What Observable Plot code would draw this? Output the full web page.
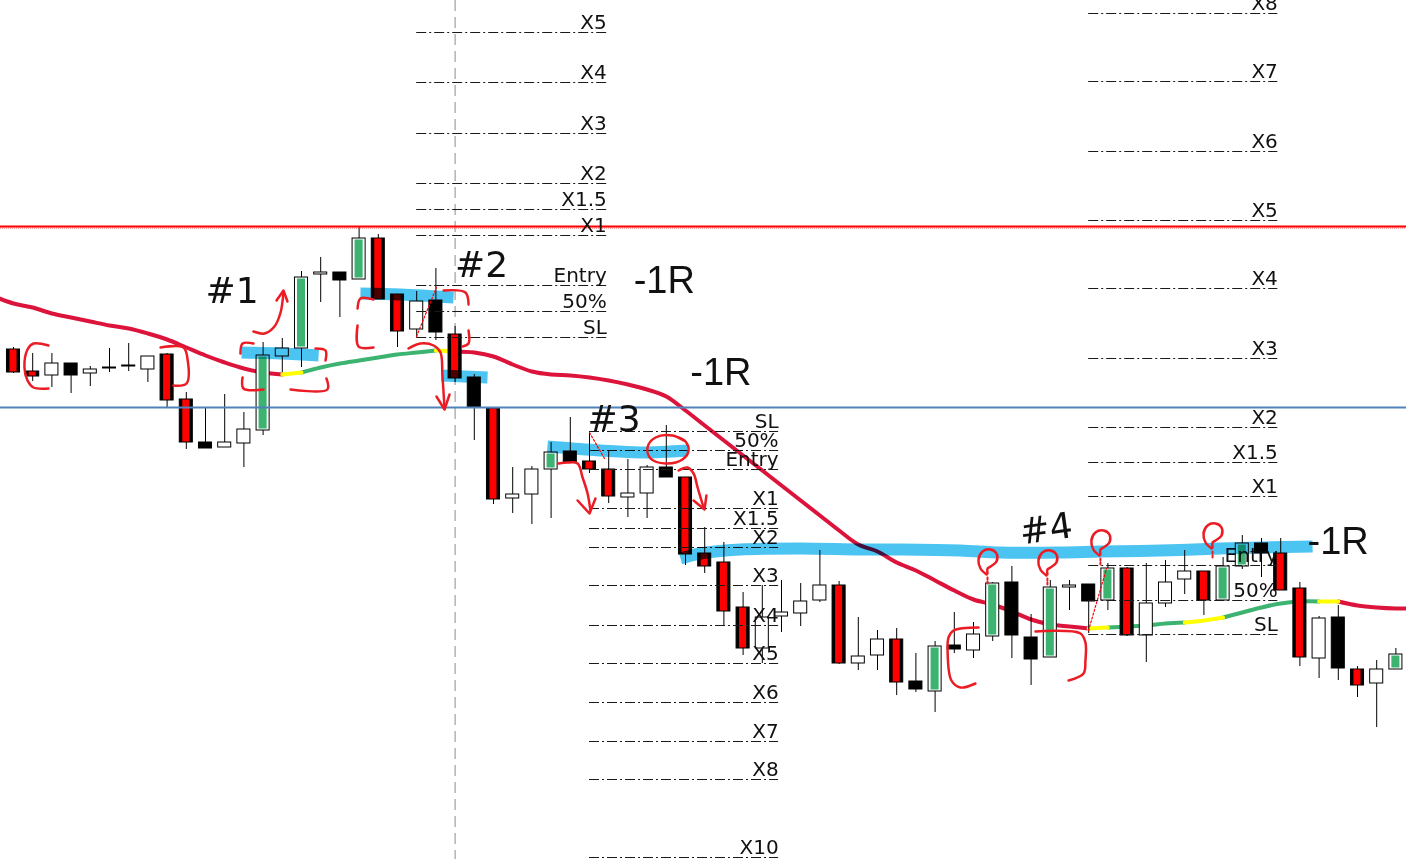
<!DOCTYPE html>
<html><head><meta charset="utf-8">
<script src="https://cdn.jsdelivr.net/npm/d3@7"></script>
<script src="https://cdn.jsdelivr.net/npm/@observablehq/plot@0.6"></script>
<style>html,body{margin:0;padding:0;background:#fff;overflow:hidden}</style>
</head><body><div id="chart"></div>
<script>
// ---------- DATA (prices in points) ----------
const open  = [651,629,625,637,627,632,634,631,646,601,558,553,557,570,644,652,726,728,721,762,706,671,700,666,623,592,502,506,531,549,539,531,503,507,533,523,447,438,393,352,384,387,400,415,337,345,361,319,309,355,350,364,418,363,343,413,416,400,432,365,397,421,429,400,434,457,447,412,342,383,331,317,331];
const high  = [653,647,647,637,634,652,657,644,647,608,592,606,588,658,662,729,743,728,773,766,706,709,732,674,626,592,533,534,558,583,568,550,541,535,575,523,473,458,408,415,420,417,450,419,383,370,372,347,359,388,378,418,434,386,420,420,416,437,433,437,440,450,429,443,465,462,462,418,384,395,334,340,352];
const low   = [627,619,613,607,614,628,629,618,593,551,552,553,533,565,628,633,698,683,721,701,653,663,660,618,560,496,487,476,482,538,527,497,483,482,523,435,427,375,345,337,368,374,398,336,330,330,305,308,288,347,342,359,342,315,343,390,367,390,364,338,393,406,385,400,431,423,410,334,322,320,303,273,331];
const close = [628,624,637,625,631,633,635,644,600,558,552,558,571,645,652,723,728,720,762,701,669,699,668,622,593,501,506,531,548,538,531,504,507,533,523,446,434,389,352,383,388,399,415,337,344,361,318,311,354,351,366,417,365,341,413,415,399,432,365,397,418,429,400,434,457,447,410,343,382,332,315,331,346];
const signal = ["S","S","-","-","-","-","-","-","S","S","-","-","-","B","-","B","-","-","B","S","S","-","-","S","-","S","-","-","B","-","S","S","-","-","-","S","S","S","S","-","-","-","-","S","-","-","S","-","B","-","-","B","-","-","B","-","-","B","S","-","-","-","S","B","B","-","S","S","-","-","S","-","B"];

// moving average, bars -1 .. 73
const maStart = -1;
const maValue = [704,697,693,687,683,679,675,672,667,661,653,645,638,632,628,626,628,633,637,640,643,646,648,650,649,648,644,636,629,626,625,623,620,616,611,604,590,575,560,545,530,515,500,485,470,456,449,438,430,420,410,401,396,389,381,376,374,372,373,374,375,377,378,380,383,388,393,397,399,399,399,395,393,392,392];
const maRuns = [
  {from:-1, to:14, trend:"down"}, {from:14, to:15, trend:"flat"}, {from:15, to:22, trend:"up"},
  {from:22, to:23, trend:"flat"}, {from:23, to:56, trend:"down"}, {from:56, to:57, trend:"flat"},
  {from:57, to:61, trend:"up"}, {from:61, to:63, trend:"flat"}, {from:63, to:68, trend:"up"},
  {from:68, to:69, trend:"flat"}, {from:69, to:73, trend:"down"}
];

// horizontal reference lines
const redLevel = 774;
const blueLevel = 593;
const sessionBar = 23;

// trade level sets
const levelSets = [
  {from:21, to:30.9, labels:["X5","X4","X3","X2","X1.5","X1","Entry","50%","SL"],
   prices:[968,918,867,817,791,765,715,689,663]},
  {from:30, to:39.85, labels:["SL","50%","Entry","X1","X1.5","X2","X3","X4","X5","X6","X7","X8","X10"],
   prices:[569,550,531,492,472,453,415,375,337,298,259,221,143]},
  {from:56, to:65.85, labels:["X8","X7","X6","X5","X4","X3","X2","X1.5","X1","Entry","50%","SL"],
   prices:[987,919,849,780,712,642,573,538,504,435,400,366]}
];

// annotations
const tradeTags = ["#1","#2","#3","#4"];
const tradeTagBars = [10.0, 23.0, 29.9, 52.5];
const tradeTagPrices = [698, 724, 570, 456];
const riskTags = ["-1R","-1R","-1R"];
const riskTagBars = [32.3, 35.25, 67.4];
const riskTagPrices = [708, 616, 447];

const highlightStrokes = [
  [[11.88,648],[13.91,647],[15.89,645]],
  [[18.07,707],[20.16,706],[22.92,703]],
  [[22.29,625],[24.69,623]],
  [[27.81,554],[30.57,550],[32.66,548],[35.1,550]],
  [[34.74,442],[35.78,447],[37.86,451],[40.99,452],[44.11,451],[46.2,451],[49.32,450],[51.41,448],[54.53,448],[56.61,449],[59.74,450],[62.86,452],[67.66,454]]
];
const penCurves = [
  [[1.82,655],[1.04,657],[0.73,651],[0.57,633],[0.73,620],[1.04,613],[1.82,612]],
  [[7.66,653],[8.85,653],[9.06,642],[9.01,617],[8.33,615]],
  [[12.5,657],[11.93,657],[11.82,647]],
  [[11.93,623],[11.98,612],[13.02,611]],
  [[15.73,652],[16.25,650],[16.25,640]],
  [[14.43,611],[16.35,611],[16.3,622]],
  [[12.5,669],[13.07,667],[13.59,674],[13.91,688],[14.06,708]],
  [[18.75,701],[18.07,702],[17.92,692]],
  [[17.92,675],[17.97,654],[18.75,653]],
  [[22.4,710],[23.54,708],[23.7,696]],
  [[23.7,670],[23.7,657],[23.39,654]],
  [[20.57,652],[21.2,657],[21.88,655],[22.24,648],[22.34,625],[22.45,592]],
  [[28.39,537],[28.85,538],[29.38,537],[29.64,523],[29.9,507],[30.05,490]],
  [[34.9,560],[34.32,565],[33.44,563],[33.02,553],[33.18,542],[33.96,537],[34.84,541],[35.16,550],[35.0,559],[34.64,563]],
  [[34.64,530],[35.1,533],[35.42,527],[35.63,513],[35.94,493]],
  [[50.26,373],[48.96,370],[48.7,363],[48.65,350],[48.85,320],[49.32,313],[50.1,317]],
  [[53.23,369],[55.57,367],[55.83,358],[55.83,340],[55.73,327],[54.95,320]]
];
const penArrowHeads = [
  [[13.7,700],[14.06,710],[14.27,699]],
  [[22.03,604],[22.45,591],[22.71,606]],
  [[29.38,500],[30.0,487],[30.31,502]],
  [[35.42,500],[35.99,491],[36.09,505]]
];
const questionMarks = [[50.73,444],[53.85,443],[56.61,463],[62.45,470]];
const tradeLines = [
  [[20.99,664],[22.03,713]],
  [[30.0,568],[30.78,542]],
  [[55.99,370],[56.93,432]]
];

// ---------- BUILD ----------
const W = 1406, H = 859, barPx = 19.2, firstBarPx = 13;
const bars = open.map((o, i) => ({i, o, h: high[i], l: low[i], c: close[i], s: signal[i]}));
const half = 0.34;
const bx1 = d => d.i - half, bx2 = d => d.i + half;
const by1 = d => Math.min(d.o, d.c), by2 = d => Math.max(d.o, d.c);

const maPts = [];
maRuns.forEach((r, k) => {
  for (let b = r.from; b <= r.to; b++) maPts.push({b, v: maValue[b - maStart], run: k, trend: r.trend});
});
const levelRows = levelSets.flatMap(s => s.labels.map((lab, j) => ({label: lab, price: s.prices[j], from: s.from, to: s.to})));
const toPts = (list) => list.flatMap((pts, id) => pts.map(([x, y]) => ({x, y, id})));
const qLoop = [[-1,18],[-7,12],[-9,3],[-5,-5],[3,-7],[9,-3],[9,5],[3,10],[0,12],[0,17]];
const qPts = questionMarks.flatMap(([bx, p], id) => qLoop.map(([dx, dy]) => ({x: bx + dx / barPx, y: p - dy, id})));
const qStems = questionMarks.flatMap(([bx, p], id) => [[0,21],[0,29]].map(([dx, dy]) => ({x: bx + dx / barPx, y: p - dy, id})));
const tagRows = tradeTags.map((t, k) => ({t, x: tradeTagBars[k], y: tradeTagPrices[k], rot: k === 3 ? -8 : 0}));
const riskRows = riskTags.map((t, k) => ({t, x: riskTagBars[k], y: riskTagPrices[k]}));

const PEN = "#ec1c24";
const chart = Plot.plot({
  width: W, height: H, margin: 0,
  x: {domain: [-firstBarPx / barPx, (W - firstBarPx) / barPx], axis: null},
  y: {domain: [1000 - H, 1000], axis: null},
  style: {background: "#fff"},
  marks: [
    Plot.ruleX([sessionBar], {stroke: "#8c8c8c", strokeDasharray: "11,6", strokeWidth: 1}),
    // moving average (under candles)
    Plot.line(maPts.filter(d => d.trend === "down"), {x: "b", y: "v", z: "run", stroke: "#dc143c", strokeWidth: 4, curve: "catmull-rom", clip: true}),
    Plot.line(maPts.filter(d => d.trend === "up"), {x: "b", y: "v", z: "run", stroke: "#3cb371", strokeWidth: 4, curve: "catmull-rom", clip: true}),
    Plot.line(maPts.filter(d => d.trend === "flat"), {x: "b", y: "v", z: "run", stroke: "#ffff00", strokeWidth: 4, curve: "catmull-rom", clip: true}),
    // candles
    Plot.ruleX(bars, {x: "i", y1: "l", y2: "h", stroke: "#000", strokeWidth: 1}),
    Plot.rect(bars, {x1: bx1, x2: bx2, y1: by1, y2: by2, fill: d => d.c > d.o ? "#fff" : "#000", stroke: "#000", strokeWidth: 1}),
    Plot.rect(bars.filter(d => d.s === "S"), {x1: bx1, x2: bx2, y1: by1, y2: by2, fill: "#ff0000", insetLeft: 3, insetRight: 3, insetTop: 0.5, insetBottom: 0.5}),
    Plot.rect(bars.filter(d => d.s === "B"), {x1: bx1, x2: bx2, y1: by1, y2: by2, fill: "#3cb371", insetLeft: 2.5, insetRight: 2.5, insetTop: 1.5, insetBottom: 1.5}),
    // horizontal lines
    Plot.ruleY([redLevel], {stroke: "#ff0000", strokeWidth: 2}),
    Plot.ruleY([redLevel - 1.5], {stroke: "#ff4040", strokeWidth: 1, strokeDasharray: "1,1"}),
    Plot.ruleY([blueLevel], {stroke: "#4f81bd", strokeWidth: 2}),
    // trade levels
    Plot.ruleY(levelRows, {y: "price", x1: "from", x2: "to", stroke: "#1a1a1a", strokeWidth: 1, strokeDasharray: "10,3,2,3"}),
    Plot.text(levelRows, {x: "to", y: "price", text: "label", textAnchor: "end", lineAnchor: "bottom", dy: -4, fontSize: 20, fontFamily: "DejaVu Sans", fill: "#111"}),
    // highlighter
    Plot.line(toPts(highlightStrokes), {x: "x", y: "y", z: "id", stroke: "#4cc4f2", strokeWidth: 12, curve: "catmull-rom", strokeLinecap: "butt", strokeLinejoin: "round", mixBlendMode: "multiply"}),
    // trade history lines
    Plot.line(toPts(tradeLines), {x: "x", y: "y", z: "id", stroke: "#ff0000", strokeWidth: 1.2, strokeDasharray: "2,2"}),
    // red pen
    Plot.line(toPts(penCurves), {x: "x", y: "y", z: "id", stroke: PEN, strokeWidth: 2.5, curve: "catmull-rom", strokeLinecap: "round", strokeLinejoin: "round"}),
    Plot.line(toPts(penArrowHeads), {x: "x", y: "y", z: "id", stroke: PEN, strokeWidth: 2.5, strokeLinecap: "round", strokeLinejoin: "round"}),
    Plot.line(qPts, {x: "x", y: "y", z: "id", stroke: PEN, strokeWidth: 2.5, curve: "catmull-rom", strokeLinecap: "round"}),
    Plot.line(qStems, {x: "x", y: "y", z: "id", stroke: PEN, strokeWidth: 2, strokeDasharray: "2,2"}),
    // text notes
    Plot.text(tagRows, {x: "x", y: "y", text: "t", rotate: "rot", textAnchor: "start", lineAnchor: "bottom", fontSize: 36, fontFamily: "DejaVu Sans", fill: "#111"}),
    Plot.text(riskRows, {x: "x", y: "y", text: "t", textAnchor: "start", lineAnchor: "bottom", fontSize: 38, fontFamily: "Liberation Sans", fill: "#111"})
  ]
});
document.getElementById("chart").appendChild(chart);
</script>
</body></html>
